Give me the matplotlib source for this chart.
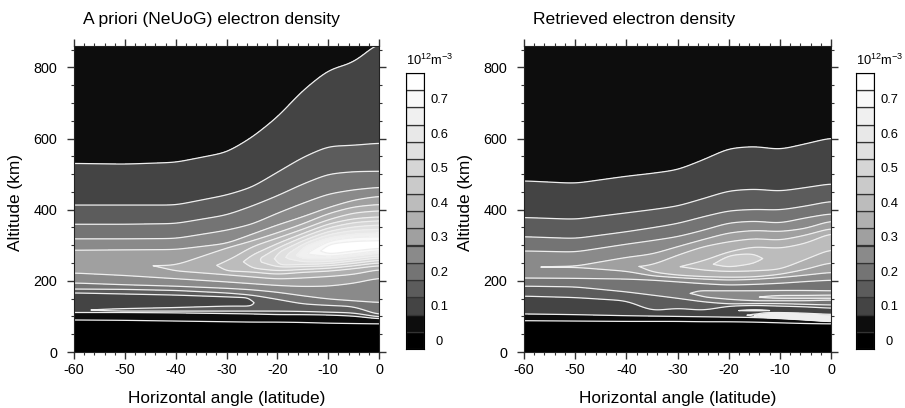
import numpy as np
import matplotlib
matplotlib.use("Agg")
import matplotlib.pyplot as plt

plt.rcParams['font.family'] = ['Liberation Sans', 'DejaVu Sans']
plt.rcParams['axes.unicode_minus'] = False
plt.rcParams['mathtext.default'] = 'regular'

# contour bands and colorbar
levels = [0, 0.05, 0.1, 0.15, 0.2, 0.25, 0.3, 0.35, 0.4, 0.45, 0.5, 0.55, 0.6, 0.65, 0.7, 0.75, 1.0]
greys = ['#000000', '#0d0d0d', '#444444', '#5c5c5c', '#747474', '#8a8a8a', '#a0a0a0', '#b0b0b0',
         '#bcbcbc', '#cacaca', '#d6d6d6', '#e0e0e0', '#e8e8e8', '#f0f0f0', '#f9f9f9', '#ffffff']
cbar_labels = ['0', '0.1', '0.2', '0.3', '0.4', '0.5', '0.6', '0.7']

# rows follow the contours: altitude (km) and density of each row, per latitude column
left_lat = [-60, -50, -40, -30, -25, -20, -15, -10, -5, 0]
left_alt = [
    [0, 0, 0, 0, 0, 0, 0, 0, 0, 0],
    [90, 89, 87, 85, 84, 84, 83, 81, 80, 79],
    [111, 111, 110, 108, 107, 105, 105, 104, 101, 93],
    [114, 115, 115, 115, 115, 115, 114, 112, 110, 98],
    [118, 118, 118, 118, 118, 120, 120, 118, 116, 100],
    [121, 122, 125, 129, 129, 125, 124, 121, 118, 101],
    [142, 142, 142, 142, 140, 130, 127, 123, 120, 102],
    [166, 163, 160, 155, 152, 138, 130, 126, 123, 103],
    [177, 176, 173, 166, 160, 148, 135, 131, 128, 104],
    [194, 189, 185, 179, 175, 168, 158, 149, 144, 139],
    [222, 215, 206, 197, 192, 187, 184, 185, 193, 208],
    [252, 248, 228, 217, 211, 205, 208, 212, 218, 232],
    [252, 248, 238, 228, 225, 218, 224, 227, 234, 243],
    [252, 248, 238, 245, 236, 228, 232, 235, 242, 251],
    [252, 248, 238, 245, 258, 238, 240, 242, 249, 258],
    [252, 248, 238, 245, 258, 244, 246, 248, 256, 265],
    [252, 248, 238, 245, 258, 262, 253, 254, 262, 271],
    [252, 248, 238, 245, 258, 262, 262, 261, 269, 278],
    [252, 248, 238, 245, 258, 262, 274, 268, 276, 285],
    [252, 248, 238, 245, 258, 262, 274, 275, 284, 292],
    [252, 248, 238, 245, 258, 262, 274, 288, 298, 306],
    [252, 248, 238, 245, 258, 262, 274, 303, 311, 313],
    [252, 248, 238, 245, 258, 262, 274, 312, 322, 324],
    [252, 248, 238, 245, 258, 262, 295, 321, 332, 335],
    [252, 248, 238, 245, 258, 262, 304, 330, 342, 345],
    [252, 248, 238, 245, 258, 278, 313, 339, 352, 357],
    [252, 248, 238, 245, 258, 292, 323, 349, 364, 369],
    [252, 248, 238, 245, 272, 305, 333, 360, 375, 380],
    [252, 248, 238, 254, 296, 320, 345, 372, 391, 397],
    [252, 248, 244, 292, 312, 335, 360, 389, 408, 415],
    [286, 287, 288, 305, 331, 357, 380, 406, 427, 438],
    [318, 318, 319, 342, 359, 390, 418, 444, 456, 463],
    [359, 359, 361, 385, 410, 439, 472, 500, 507, 508],
    [413, 413, 413, 441, 463, 505, 547, 578, 581, 587],
    [530, 528, 533, 561, 603, 660, 735, 792, 814, 870],
    [900, 900, 900, 900, 900, 900, 900, 900, 900, 900],
]
left_den = [
    [0, 0, 0, 0, 0, 0, 0, 0, 0, 0],
    [.05, .05, .05, .05, .05, .05, .05, .05, .05, .05],
    [.1, .1, .1, .1, .1, .1, .1, .1, .1, .1],
    [.13, .15, .15, .15, .15, .15, .15, .15, .15, .15],
    [.14, .17, .17, .17, .17, .158, .155, .155, .155, .155],
    [.135, .15, .15, .15, .15, .165, .165, .165, .165, .165],
    [.12, .125, .13, .135, .147, .175, .175, .175, .175, .175],
    [.15, .15, .15, .15, .15, .19, .19, .19, .19, .19],
    [.2, .2, .2, .2, .2, .2, .2, .2, .2, .2],
    [.25, .25, .25, .25, .25, .25, .25, .25, .25, .25],
    [.3, .3, .3, .3, .3, .3, .3, .3, .3, .3],
    [.335, .34, .35, .35, .35, .35, .35, .35, .35, .35],
    [.335, .34, .358, .4, .4, .4, .4, .4, .4, .4],
    [.335, .34, .358, .41, .45, .45, .45, .45, .45, .45],
    [.335, .34, .358, .41, .47, .5, .5, .5, .5, .5],
    [.335, .34, .358, .41, .47, .55, .55, .55, .55, .55],
    [.335, .34, .358, .41, .47, .56, .6, .6, .6, .6],
    [.335, .34, .358, .41, .47, .56, .65, .65, .65, .65],
    [.335, .34, .358, .41, .47, .56, .68, .7, .7, .7],
    [.335, .34, .358, .41, .47, .56, .68, .75, .75, .75],
    [.335, .34, .358, .41, .47, .56, .68, .78, .83, .78],
    [.335, .34, .358, .41, .47, .56, .68, .75, .75, .75],
    [.335, .34, .358, .41, .47, .56, .68, .7, .7, .7],
    [.335, .34, .358, .41, .47, .56, .65, .65, .65, .65],
    [.335, .34, .358, .41, .47, .56, .6, .6, .6, .6],
    [.335, .34, .358, .41, .47, .55, .55, .55, .55, .55],
    [.335, .34, .358, .41, .47, .5, .5, .5, .5, .5],
    [.335, .34, .358, .41, .45, .45, .45, .45, .45, .45],
    [.335, .34, .358, .4, .4, .4, .4, .4, .4, .4],
    [.335, .34, .35, .35, .35, .35, .35, .35, .35, .35],
    [.3, .3, .3, .3, .3, .3, .3, .3, .3, .3],
    [.25, .25, .25, .25, .25, .25, .25, .25, .25, .25],
    [.2, .2, .2, .2, .2, .2, .2, .2, .2, .2],
    [.15, .15, .15, .15, .15, .15, .15, .15, .15, .15],
    [.1, .1, .1, .1, .1, .1, .1, .1, .1, .1],
    [.08, .08, .08, .08, .08, .08, .08, .08, .09, .098],
]

right_lat = [-60, -50, -40, -35, -30, -25, -20, -15, -10, -5, 0]
right_alt = [
    [0, 0, 0, 0, 0, 0, 0, 0, 0, 0, 0],
    [88, 87, 86, 86, 86, 85, 85, 84, 82, 80, 79],
    [107, 105, 102, 101, 100, 99, 98, 97, 94, 90, 85],
    [112, 108, 106, 105, 104, 104, 104, 103, 104, 100, 95],
    [115, 112, 110, 108, 107, 107, 107, 107, 108, 105, 100],
    [118, 116, 114, 111, 110, 110, 112, 113, 112, 110, 106],
    [122, 120, 118, 112, 116, 113, 116, 117, 116, 115, 112],
    [124, 122, 120, 113, 118, 114, 118, 121, 119, 118, 115],
    [157, 153, 144, 116, 123, 117, 129, 131, 129, 127, 123],
    [185, 183, 169, 160, 151, 141, 135, 136, 136, 134, 132],
    [187, 186, 173, 165, 156, 155, 148, 144, 144, 144, 146],
    [190, 189, 177, 170, 161, 159, 151, 151, 151, 151, 151],
    [193, 192, 181, 175, 166, 163, 158, 154, 155, 155, 155],
    [196, 195, 185, 180, 171, 167, 165, 157, 159, 159, 160],
    [200, 199, 192, 188, 180, 172, 172, 172, 173, 173, 172],
    [204, 203, 199, 196, 189, 180, 180, 180, 182, 183, 186],
    [208, 207, 205, 202, 197, 192, 188, 190, 193, 198, 202],
    [236, 238, 227, 214, 209, 205, 202, 204, 209, 216, 224],
    [238, 240, 245, 225, 216, 212, 210, 211, 218, 232, 252],
    [238, 240, 245, 236, 240, 230, 226, 228, 232, 260, 289],
    [238, 240, 245, 236, 240, 240, 238, 249, 262, 280, 311],
    [238, 240, 245, 236, 240, 240, 256, 263, 262, 280, 311],
    [238, 240, 245, 236, 240, 240, 272, 277, 262, 280, 311],
    [238, 240, 245, 236, 240, 256, 282, 296, 291, 305, 334],
    [238, 240, 245, 244, 272, 296, 310, 319, 314, 328, 348],
    [240, 241, 266, 275, 296, 316, 335, 342, 338, 347, 369],
    [284, 281, 303, 313, 324, 342, 363, 368, 362, 377, 389],
    [324, 319, 338, 349, 361, 380, 397, 401, 399, 410, 424],
    [378, 373, 391, 400, 410, 431, 453, 458, 452, 462, 473],
    [481, 474, 494, 502, 512, 540, 572, 578, 569, 585, 602],
    [900, 900, 900, 900, 900, 900, 900, 900, 900, 900, 900],
]
right_den = [
    [0, 0, 0, 0, 0, 0, 0, 0, 0, 0, 0],
    [.05, .05, .05, .05, .05, .05, .05, .05, .05, .05, .05],
    [.1, .1, .1, .1, .1, .1, .1, .1, .1, .1, .1],
    [.105, .105, .105, .105, .105, .11, .12, .16, .72, .9, .9],
    [.11, .11, .11, .11, .11, .11, .12, .13, .25, .25, .25],
    [.115, .115, .115, .13, .125, .12, .125, .12, .12, .13, .14],
    [.12, .12, .12, .14, .13, .13, .14, .165, .14, .14, .145],
    [.125, .125, .125, .14, .135, .135, .14, .14, .14, .142, .146],
    [.15, .15, .15, .15, .15, .15, .15, .15, .15, .15, .15],
    [.2, .2, .2, .2, .2, .2, .2, .2, .2, .2, .2],
    [.205, .205, .205, .205, .21, .25, .25, .25, .25, .25, .25],
    [.21, .21, .21, .21, .23, .255, .26, .29, .3, .3, .3],
    [.215, .215, .215, .22, .24, .26, .27, .295, .32, .33, .33],
    [.22, .22, .22, .22, .24, .255, .26, .29, .3, .3, .3],
    [.225, .225, .225, .225, .24, .25, .25, .25, .25, .25, .25],
    [.23, .23, .23, .23, .24, .24, .235, .23, .23, .23, .23],
    [.25, .25, .25, .25, .25, .25, .25, .25, .25, .25, .25],
    [.29, .3, .3, .3, .3, .3, .3, .3, .3, .3, .3],
    [.29, .32, .34, .35, .35, .35, .35, .35, .35, .35, .35],
    [.29, .32, .34, .36, .395, .4, .4, .4, .4, .4, .4],
    [.29, .32, .34, .36, .395, .44, .45, .45, .43, .42, .42],
    [.29, .32, .34, .36, .395, .44, .465, .46, .43, .42, .42],
    [.29, .32, .34, .36, .395, .44, .45, .45, .43, .42, .42],
    [.29, .32, .34, .36, .395, .4, .4, .4, .4, .4, .4],
    [.29, .32, .34, .35, .35, .35, .35, .35, .35, .35, .35],
    [.29, .3, .3, .3, .3, .3, .3, .3, .3, .3, .3],
    [.25, .25, .25, .25, .25, .25, .25, .25, .25, .25, .25],
    [.2, .2, .2, .2, .2, .2, .2, .2, .2, .2, .2],
    [.15, .15, .15, .15, .15, .15, .15, .15, .15, .15, .15],
    [.1, .1, .1, .1, .1, .1, .1, .1, .1, .1, .1],
    [.08, .08, .08, .08, .08, .08, .08, .08, .08, .08, .08],
]

W, H = 905, 408


def axes_px(fig, x0, x1, y0, y1):
    return fig.add_axes([x0 / W, 1 - y1 / H, (x1 - x0) / W, (y1 - y0) / H])


def fine_rows(lat, rows, fine, win, passes):
    # resample each row along latitude, box smoothing so the contours are not polygons
    out = []
    half = win // 2
    for row in rows:
        r = np.interp(fine, lat, row)
        for _ in range(passes):
            r = np.convolve(np.pad(r, half, mode='edge'), np.ones(win) / win, mode='valid')
        out.append(r)
    return np.array(out)


def panel(fig, box, lat, alt, den, title):
    ax = axes_px(fig, *box)
    fine = np.linspace(-60, 0, 361)
    yy = fine_rows(lat, alt, fine, 19, 2)
    zz = fine_rows(lat, den, fine, 13, 2)
    xx = np.tile(fine, (yy.shape[0], 1))
    ax.contourf(xx, yy, zz, levels=levels, colors=greys)
    ax.contour(xx, yy, zz, levels=levels[1:-1], colors='#eeeeee', linewidths=0.9)
    ax.set_xlim(-60, 0)
    ax.set_ylim(0, 860)
    ax.set_xticks(range(-60, 1, 10))
    ax.set_xticks(range(-60, 1, 2), minor=True)
    ax.set_yticks(range(0, 801, 200))
    ax.set_yticks(range(0, 851, 50), minor=True)
    ax.tick_params(which='major', direction='out', length=5, width=1, top=True, right=True,
                   labelsize=10.4, color='#333333')
    ax.tick_params(axis='y', which='major', pad=7)
    ax.tick_params(axis='x', which='major', pad=3)
    ax.tick_params(which='minor', direction='out', length=2.5, width=0.8, top=True, right=True,
                   color='#333333')
    for s in ax.spines.values():
        s.set_linewidth(0.8)
        s.set_color('#222222')
    ax.set_xlabel('Horizontal angle (latitude)', fontsize=12.4)
    ax.set_ylabel('Altitude (km)', fontsize=12.4)
    ax.xaxis.set_label_coords(0.5, -0.127)
    ax.yaxis.set_label_coords(-0.167, 0.49)
    ax.set_title(title, fontsize=12.6, loc='left', x=0.03, pad=16)
    return ax


def colorbar(fig, box):
    cax = axes_px(fig, *box)
    for i, c in enumerate(greys):
        cax.bar(0, 1, bottom=i, width=1, color=c, edgecolor='#333333', linewidth=0.9)
    cax.set_xlim(-0.5, 0.5)
    cax.set_ylim(0, len(greys))
    cax.set_xticks([])
    cax.yaxis.tick_right()
    cax.set_yticks([2 * i + 0.5 for i in range(len(cbar_labels))])
    cax.set_yticklabels(cbar_labels, ha='center')
    cax.tick_params(axis='y', length=0, labelsize=9.3, pad=11)
    for s in cax.spines.values():
        s.set_linewidth(0.8)
    cax.set_title('10$^{12}$m$^{-3}$', fontsize=9.3, pad=6, loc='left')


fig = plt.figure(figsize=(W / 100, H / 100), dpi=100)
panel(fig, (74, 379, 46, 352), left_lat, left_alt, left_den, 'A priori (NeUoG) electron density')
colorbar(fig, (406, 424, 73, 349))
panel(fig, (524, 831, 46, 352), right_lat, right_alt, right_den, 'Retrieved electron density')
colorbar(fig, (856, 874, 73, 349))
fig.savefig('out.png', dpi=100)
